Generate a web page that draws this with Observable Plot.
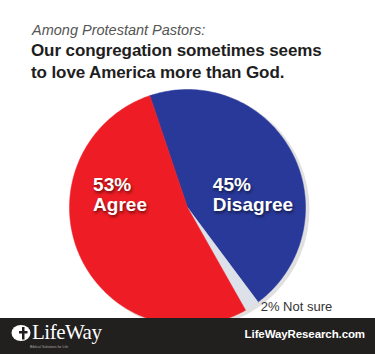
<!DOCTYPE html>
<html>
<head>
<meta charset="utf-8">
<script src="https://cdn.jsdelivr.net/npm/d3@7"></script>
<script src="https://cdn.jsdelivr.net/npm/@observablehq/plot@0.6"></script>
<style>
  html, body { margin: 0; padding: 0; background: #fff; }
  #wrap { position: relative; width: 375px; height: 354px; overflow: hidden; background: #fff; font-family: "Liberation Sans", Arial, Helvetica, sans-serif; }
  #chart { position: absolute; left: 0; top: 0; }
  .sub { position: absolute; left: 32px; top: 22px; font-size: 14.5px; font-style: italic; color: #555; letter-spacing: 0; }
  .title { position: absolute; left: 31px; top: 40px; font-size: 17px; font-weight: bold; color: #1e1e1e; line-height: 22px; letter-spacing: -0.1px; }
  .footer { position: absolute; left: 0; top: 318px; width: 375px; height: 36px; background: #221f1f; color: #fff; }
  .logo { position: absolute; left: 11px; top: 3px; height: 22px; line-height: 22px; font-family: "Liberation Serif", "DejaVu Serif", serif; font-size: 21px; letter-spacing: -0.5px; }
  .logo svg { vertical-align: -3px; margin-right: 1px; }
  .tag { position: absolute; left: 30px; top: 27px; line-height: 5px; font-size: 3.5px; color: #aaa; }
  .site { position: absolute; right: 10px; top: 10px; font-size: 11.5px; font-weight: bold; letter-spacing: -0.1px; }
  .lbl { text-shadow: 1px 2px 3px rgba(0,0,0,0.55); }
</style>
</head>
<body>
<div id="wrap">
  <div id="chart"></div>
  <div class="sub">Among Protestant Pastors:</div>
  <div class="title">Our congregation sometimes seems<br>to love America more than God.</div>
  <div class="footer">
    <div class="logo"><svg width="20" height="18" viewBox="0 0 20 18"><ellipse cx="10" cy="9" rx="9.5" ry="8" fill="#fff"/><path d="M11 3 h2.5 v4 h3 v2.5 h-3 v6 h-2.5 v-6 h-3 v-2.5 h3z" fill="#221f1f"/></svg>LifeWay</div>
    <div class="tag">Biblical Solutions for Life</div>
    <div class="site">LifeWayResearch.com</div>
  </div>
</div>
<script>
// Data
const categories = ["Disagree", "Not sure", "Agree"];
const values = [45, 2, 53];
const colors = ["#29399a", "#dde1ea", "#ee1c24"];
const labelTexts = ["45%\nDisagree", "2% Not sure", "53%\nAgree"];

const startDeg = -18.7;
const pie = d3.pie().sort(null).value(d => d.value)
  .startAngle(startDeg * Math.PI / 180)
  .endAngle((startDeg + 360) * Math.PI / 180);
const slices = pie(categories.map((c, i) => ({cat: c, value: values[i], color: colors[i]})));

// polygon vertices for each slice (unit circle, y up)
function slicePoints(s) {
  const pts = [{x: 0, y: 0, cat: s.data.cat}];
  const n = Math.max(2, Math.ceil((s.endAngle - s.startAngle) / (Math.PI / 180)));
  for (let k = 0; k <= n; k++) {
    const a = s.startAngle + (s.endAngle - s.startAngle) * k / n;
    pts.push({x: Math.sin(a), y: Math.cos(a), cat: s.data.cat});
  }
  return pts;
}

const labels = [
  {text: labelTexts[0], x: 0.215, y: 0.11, size: 19, fill: "#fff", weight: "bold", cls: true},
  {text: labelTexts[2], x: -0.80, y: 0.11, size: 19, fill: "#fff", weight: "bold", cls: true},
  {text: labelTexts[1], x: 0.62, y: -0.84, size: 13, fill: "#333", weight: "normal", cls: false}
];

const R = 118, cx = 187, cy = 207;
const marks = [
  Plot.dot([{x: 0, y: 0}], {x: "x", y: "y", r: R + 1, fill: "#000", fillOpacity: 0.12, dx: 3, dy: 2}),
  ...slices.map(s => Plot.line(slicePoints(s), {x: "x", y: "y", curve: "linear-closed", fill: s.data.color, stroke: s.data.color, strokeWidth: 0.5})),
  ...labels.map(l => Plot.text([l], {x: "x", y: "y", text: "text", textAnchor: "start", lineAnchor: "middle", lineHeight: 1.05, fontSize: l.size, fontWeight: l.weight, fill: l.fill, className: l.cls ? "lbl" : undefined}))
];

const chart = Plot.plot({
  width: 375,
  height: 354,
  margin: 0,
  style: {fontFamily: "'Liberation Sans', Arial, Helvetica, sans-serif", background: "transparent"},
  x: {domain: [-1, 1], range: [cx - R, cx + R], axis: null},
  y: {domain: [-1, 1], range: [cy + R, cy - R], axis: null},
  marks
});
document.getElementById("chart").appendChild(chart);
</script>
</body>
</html>
